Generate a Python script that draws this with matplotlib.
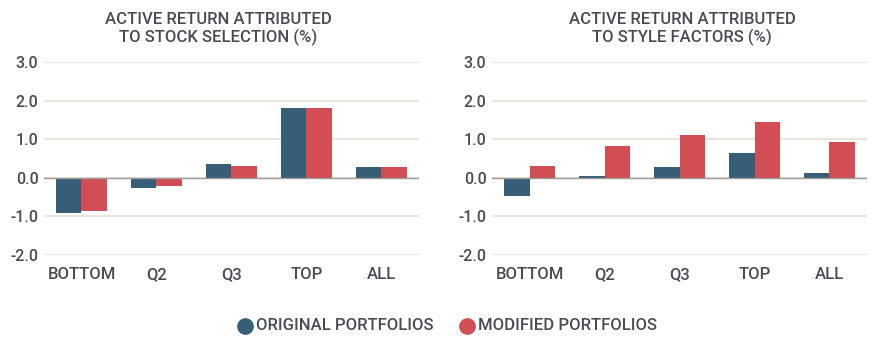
import numpy as np
import matplotlib.pyplot as plt

plt.rcParams['font.family'] = ['Roboto', 'DejaVu Sans']

categories = ['BOTTOM', 'Q2', 'Q3', 'TOP', 'ALL']
stock_original = [-0.90, -0.27, 0.37, 1.81, 0.27]
stock_modified = [-0.85, -0.22, 0.30, 1.81, 0.27]
style_original = [-0.47, 0.05, 0.27, 0.65, 0.12]
style_modified = [0.30, 0.83, 1.11, 1.45, 0.93]
yticks = [-2.0, -1.0, 0.0, 1.0, 2.0, 3.0]

blue = '#365e76'
red = '#d24d54'
txt = '#474c54'
grid_c = '#e6dfd8'

fig = plt.figure(figsize=(8.71, 3.52), dpi=100)
ax1 = fig.add_axes([0.0505, 0.2756, 0.4305, 0.5483])
ax2 = fig.add_axes([0.5649, 0.2756, 0.4305, 0.5483])

x = np.arange(len(categories))
w = 0.335

def draw(ax, orig, mod):
    ax.bar(x - w/2, orig, w, color=blue, zorder=3)
    ax.bar(x + w/2, mod, w, color=red, zorder=3)
    ax.set_xlim(-0.5, 4.5)
    ax.set_ylim(-2.0, 3.0)
    ax.set_yticks(yticks)
    ax.set_yticklabels(['%.1f' % v for v in yticks], fontsize=11.5, fontweight='medium')
    ax.set_xticks(x)
    ax.set_xticklabels(categories, fontsize=12, fontweight='medium')
    for v in yticks:
        ax.axhline(v, color=grid_c, lw=1.2, zorder=1)
    ax.axhline(0, color='#a09a96', lw=1.0, zorder=4)
    for s in ax.spines.values():
        s.set_visible(False)
    ax.tick_params(length=0, colors=txt)
    ax.tick_params(axis='x', pad=9)
    ax.tick_params(axis='y', pad=4)

draw(ax1, stock_original, stock_modified)
draw(ax2, style_original, style_modified)

fig.text(218/871, 1 - 29/352, 'ACTIVE RETURN ATTRIBUTED\nTO STOCK SELECTION (%)',
         ha='center', va='center', color=txt, fontsize=12, fontweight='medium', linespacing=1.2)
fig.text(682/871, 1 - 29/352, 'ACTIVE RETURN ATTRIBUTED\nTO STYLE FACTORS (%)',
         ha='center', va='center', color=txt, fontsize=12, fontweight='medium', linespacing=1.2)

# legend
ly = 1 - 326/352
fig.lines.append(plt.Line2D([245/871], [ly], marker='o', ms=11, color=blue,
                            transform=fig.transFigure, lw=0))
fig.text(256/871, ly, 'ORIGINAL PORTFOLIOS', ha='left', va='center', color=txt,
         fontsize=12, fontweight='medium')
fig.lines.append(plt.Line2D([467/871], [ly], marker='o', ms=11, color=red,
                            transform=fig.transFigure, lw=0))
fig.text(478/871, ly, 'MODIFIED PORTFOLIOS', ha='left', va='center', color=txt,
         fontsize=12, fontweight='medium')

fig.savefig('out.png', dpi=100)
